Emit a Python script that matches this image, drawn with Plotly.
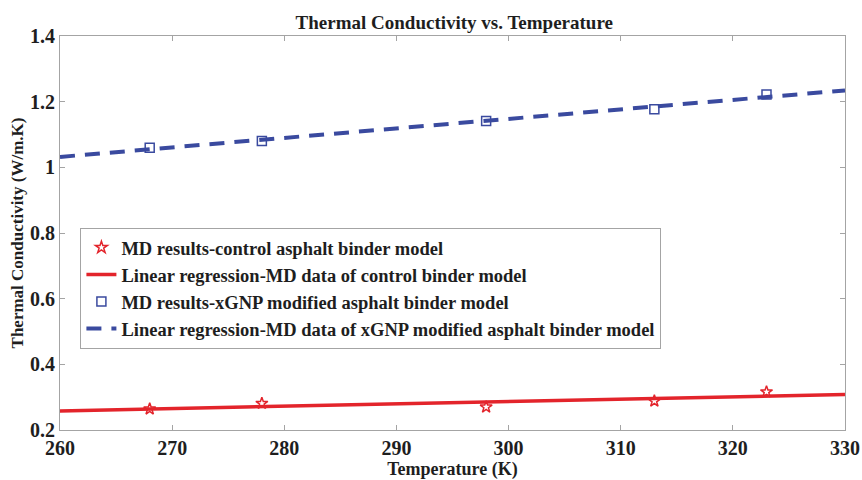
import numpy as np
import plotly.graph_objects as go

# Molecular dynamics results: temperature (K) vs thermal conductivity (W/m.K)
temperature = [268, 278, 298, 313, 323]
k_control = [0.264, 0.281, 0.270, 0.288, 0.316]
k_xgnp = [1.060, 1.080, 1.141, 1.177, 1.222]

fit_range = [260, 330]
x_ticks = [260, 270, 280, 290, 300, 310, 320, 330]
y_ticks = [0.2, 0.4, 0.6, 0.8, 1.0, 1.2, 1.4]
y_tick_text = ["0.2", "0.4", "0.6", "0.8", "1", "1.2", "1.4"]

names = [
    "MD results-control asphalt binder model",
    "Linear regression-MD data of control binder model",
    "MD results-xGNP modified asphalt binder model",
    "Linear regression-MD data of xGNP modified asphalt binder model",
]

RED = "#e3242b"
BLUE = "#3a4a9f"
INK = "#1e1e1e"
FRAME = "#a4a4a4"
SERIF = "Liberation Serif, Times New Roman, serif"


def bold(s):
    return "<b>" + s + "</b>"


def linear_fit(x, y, span):
    slope, intercept = np.polyfit(x, y, 1)
    xs = np.array(span, dtype=float)
    return xs, slope * xs + intercept


fx_c, fy_c = linear_fit(temperature, k_control, fit_range)
fx_x, fy_x = linear_fit(temperature, k_xgnp, fit_range)

fig = go.Figure()
fig.add_trace(go.Scatter(
    x=temperature, y=k_control, mode="markers", name=bold(names[0]),
    marker=dict(symbol="star-open", size=9, color=RED, line=dict(width=1.5, color=RED)),
))
fig.add_trace(go.Scatter(
    x=fx_c, y=fy_c, mode="lines", name=bold(names[1]),
    line=dict(color=RED, width=3.5),
))
fig.add_trace(go.Scatter(
    x=temperature, y=k_xgnp, mode="markers", name=bold(names[2]),
    marker=dict(symbol="square-open", size=9, color=BLUE, line=dict(width=1.5, color=BLUE)),
))
fig.add_trace(go.Scatter(
    x=fx_x, y=fy_x, mode="lines", name=bold(names[3]),
    line=dict(color=BLUE, width=4, dash="15px,10px"),
))

axis_common = dict(
    showline=True, linecolor=FRAME, linewidth=1, mirror="ticks",
    ticks="inside", ticklen=5, tickcolor=FRAME,
    showgrid=False, zeroline=False, automargin=False,
    tickfont=dict(family=SERIF, size=20, color=INK),
)

fig.update_xaxes(
    range=fit_range, tickvals=x_ticks, ticktext=[bold(str(t)) for t in x_ticks],
    **axis_common,
    title=dict(text=bold("Temperature (K)"), standoff=0,
               font=dict(family=SERIF, size=18, color=INK)),
)
fig.update_yaxes(
    range=[0.2, 1.4], tickvals=y_ticks, ticktext=[bold(t) for t in y_tick_text],
    **axis_common,
    title=dict(text=bold("Thermal Conductivity (W/m.K)"), standoff=2,
               font=dict(family=SERIF, size=17, color=INK)),
)

fig.update_layout(
    width=862, height=480,
    margin=dict(l=60, r=17, t=36, b=50),
    paper_bgcolor="white", plot_bgcolor="white",
    title=dict(text=bold("Thermal Conductivity vs. Temperature"),
               x=0.527, xanchor="center", y=0.953, yanchor="middle",
               font=dict(family=SERIF, size=19, color=INK)),
    legend=dict(
        x=0.026, y=0.513, xanchor="left", yanchor="top",
        bgcolor="white", bordercolor=FRAME, borderwidth=1,
        font=dict(family=SERIF, size=18.5, color=INK),
        tracegroupgap=0, itemwidth=30,
    ),
    showlegend=True,
)

fig.write_html("out.html")
